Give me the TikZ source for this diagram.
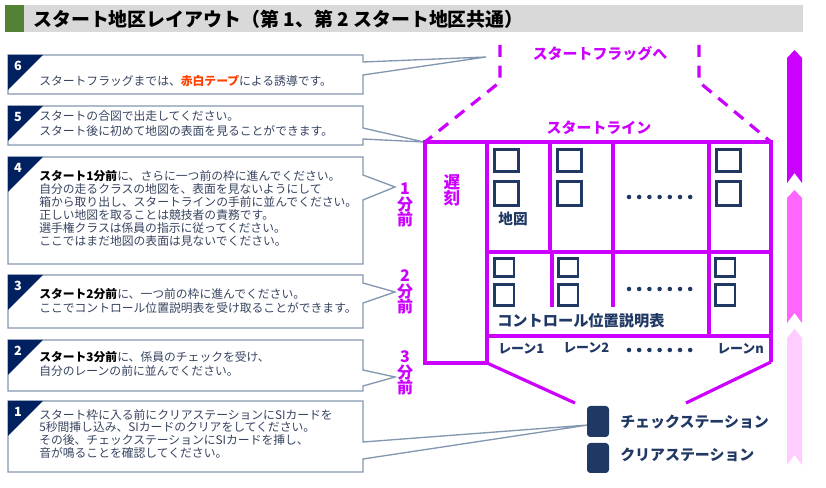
\documentclass[tikz,border=0pt]{standalone}
\usepackage{fontspec}
\setmainfont{Noto Sans CJK JP}
\definecolor{mag}{RGB}{204,0,255}
\definecolor{magmid}{RGB}{255,102,255}
\definecolor{maglight}{RGB}{255,204,255}
\definecolor{navy}{RGB}{32,56,100}
\definecolor{badgecol}{RGB}{0,32,96}
\definecolor{boxline}{RGB}{132,151,176}
\definecolor{bodytxt}{RGB}{55,68,96}
\definecolor{redtape}{RGB}{255,64,0}
\definecolor{titlebg}{RGB}{217,217,217}
\definecolor{titlegreen}{RGB}{84,130,53}
\begin{document}
\begin{tikzpicture}[x=0.75pt,y=-0.75pt,
  callout/.style={draw=boxline, line width=1pt, fill=white, line join=miter},
  badge/.style={fill=badgecol},
  num/.style={text=white, font=\fontsize{9.5}{10}\selectfont\bfseries, inner sep=0},
  ln/.style={anchor=west, inner sep=0, text=bodytxt, font=\fontsize{8.85}{10}\selectfont},
  mg/.style={draw=mag, line width=2.4pt},
  mgdash/.style={draw=mag, line width=2.4pt, dash pattern=on 9pt off 6.5pt},
  mgtxt/.style={text=mag, font=\fontsize{11.2}{12}\selectfont\bfseries, inner sep=0},
  mgmin/.style={text=mag, font=\fontsize{12}{11.6}\selectfont\bfseries, inner sep=0, align=center},
  mapsq/.style={draw=navy, line width=2.1pt},
  navytxt/.style={text=navy, inner sep=0},
  station/.style={fill=navy, rounded corners=2.5pt}
]
\useasboundingbox (0,0) rectangle (826,488);

% ---- title bar
\fill[titlebg] (5,5) rectangle (803,32);
\fill[titlegreen] (5,5) rectangle (24,32);
\node[anchor=west, inner sep=0, font=\fontsize{14.2}{15}\selectfont\bfseries] (title) at (33,19)
  {スタート地区レイアウト（第 1、第 2 スタート地区共通）};

% ---- callout boxes
\draw[callout] (8,55) -- (363,55) -- (363,62) -- (486,57) -- (363,75) -- (363,94) -- (8,94) -- cycle;
\draw[callout] (8,106) -- (363,106) -- (363,128) -- (424,142) -- (363,139) -- (363,145) -- (8,145) -- cycle;
\draw[callout] (8,157) -- (363,157) -- (363,175) -- (395,187) -- (363,200) -- (363,264) -- (8,264) -- cycle;
\draw[callout] (8,275) -- (363,275) -- (363,283) -- (395,292) -- (363,303) -- (363,328) -- (8,328) -- cycle;
\draw[callout] (8,340) -- (363,340) -- (363,370) -- (395,377) -- (363,386) -- (363,391) -- (8,391) -- cycle;
\draw[callout] (8,401) -- (363,401) -- (363,442) -- (588,425) -- (363,459) -- (363,472) -- (8,472) -- cycle;

% badges
\foreach \t/\n in {55/6,106/5,157/4,275/3,340/2,401/1}{
  \fill[badge] (8,\t) -- (43,\t) -- (8,\t+35) -- cycle;
  \node[num] (badge\n) at (18,\t+11) {\n};
}

% texts
\node[ln] (t6a) at (39,81) {スタートフラッグまでは、{\color{redtape}\bfseries 赤白テープ}による誘導です。};

\node[ln] (t5a) at (39,116.5) {スタートの合図で出走してください。};
\node[ln] (t5b) at (39,131.5) {スタート後に初めて地図の表面を見ることができます。};

\node[ln] (t4a) at (39,176) {{\color{black}\bfseries スタート1分前}に、さらに一つ前の枠に進んでください。};
\node[ln] (t4b) at (39,189) {自分の走るクラスの地図を、表面を見ないようにして};
\node[ln] (t4c) at (39,202) {箱から取り出し、スタートラインの手前に並んでください。};
\node[ln] (t4d) at (39,215) {正しい地図を取ることは競技者の責務です。};
\node[ln] (t4e) at (39,228) {選手権クラスは係員の指示に従ってください。};
\node[ln] (t4f) at (39,241) {ここではまだ地図の表面は見ないでください。};

\node[ln] (t3a) at (39,294) {{\color{black}\bfseries スタート2分前}に、一つ前の枠に進んでください。};
\node[ln] (t3b) at (39,308) {ここでコントロール位置説明表を受け取ることができます。};

\node[ln] (t2a) at (39,357) {{\color{black}\bfseries スタート3分前}に、係員のチェックを受け、};
\node[ln] (t2b) at (39,371) {自分のレーンの前に並んでください。};

\node[ln] (t1a) at (39,415) {スタート枠に入る前にクリアステーションにSIカードを};
\node[ln] (t1b) at (39,427.5) {5秒間挿し込み、SIカードのクリアをしてください。};
\node[ln] (t1c) at (39,440) {その後、チェックステーションにSIカードを挿し、};
\node[ln] (t1d) at (39,452.5) {音が鳴ることを確認してください。};

% minute labels
\node[mgmin] (m1) at (405,205) {1\\分\\前};
\node[mgmin] (m2) at (405,292) {2\\分\\前};
\node[mgmin] (m3) at (405,373) {3\\分\\前};

% ---- start area frame
\draw[mgdash] (500,45) -- (500,82) -- (425,142);
\draw[mgdash] (699,45) -- (699,82) -- (771,142);
\node[mgtxt] (flag) at (600,54) {スタートフラッグへ};
\node[mgtxt] (sline) at (599,128) {スタートライン};

\draw[mg, line join=miter] (487,363) -- (425,363) -- (425,142) -- (771,142) -- (771,362);
\draw[mg] (487,142) -- (487,363);
\draw[mg] (487,252) -- (771,252);
\draw[mg] (487,336) -- (771,336);
\draw[mg] (550,142) -- (550,252);
\draw[mg] (613,142) -- (613,252);
\draw[mg] (709,142) -- (709,252);
\draw[mg] (552,252) -- (552,307);
\draw[mg] (613,252) -- (613,307);
\draw[mg] (709,252) -- (709,336);
\draw[mg] (487,363) -- (575,403);
\draw[mg] (771,362) -- (686,403);

\node[mgmin, font=\fontsize{12.5}{12}\selectfont\bfseries] (late) at (452,190) {遅\\刻};

% map squares row 1
\foreach \x in {494.5,557.5,716.5}{
  \draw[mapsq] (\x,149.5) rectangle (\x+24,171.5);
  \draw[mapsq] (\x,181.5) rectangle (\x+24,205.5);
}
% map squares row 2
\foreach \x in {494.5,558.5,715.5}{
  \draw[mapsq] (\x,258.5) rectangle (\x+19.5,276.5);
  \draw[mapsq] (\x,284.5) rectangle (\x+19.5,305.5);
}
\node[navytxt, font=\fontsize{11}{12}\selectfont\bfseries] (mapl) at (513,219) {地図};
\node[navytxt, anchor=west, font=\fontsize{11.4}{12}\selectfont\bfseries] (ctrl) at (497,321) {コントロール位置説明表};

% dots
\foreach \y in {197,289,350}{
  \foreach \i in {0,...,6}{
    \fill[navy] (629+\i*10.2,\y) circle[radius=1.7pt];
  }
}

% lanes
\node[navytxt, anchor=west, font=\fontsize{9.7}{10}\selectfont\bfseries] (lane1) at (498,349) {レーン1};
\node[navytxt, anchor=west, font=\fontsize{9.7}{10}\selectfont\bfseries] (lane2) at (563,348) {レーン2};
\node[navytxt, anchor=west, font=\fontsize{9.7}{10}\selectfont\bfseries] (lanen) at (717,349) {レーンn};

% stations
\fill[station] (587,406) rectangle (609,437);
\fill[station] (587,443) rectangle (609,473);
\node[navytxt, anchor=west, font=\fontsize{11.2}{12}\selectfont\bfseries] (chk) at (620,422) {チェックステーション};
\node[navytxt, anchor=west, font=\fontsize{11.2}{12}\selectfont\bfseries] (clr) at (620,455) {クリアステーション};

% right arrows
\fill[mag] (787,58) -- (794.5,50) -- (802,58) -- (802,183) -- (794.5,173) -- (787,183) -- cycle;
\fill[magmid] (787,198) -- (794.5,190) -- (802,198) -- (802,323) -- (794.5,313) -- (787,323) -- cycle;
\fill[maglight] (787,338) -- (794.5,329) -- (802,338) -- (802,465) -- (794.5,455) -- (787,465) -- cycle;
\end{tikzpicture}
\end{document}
